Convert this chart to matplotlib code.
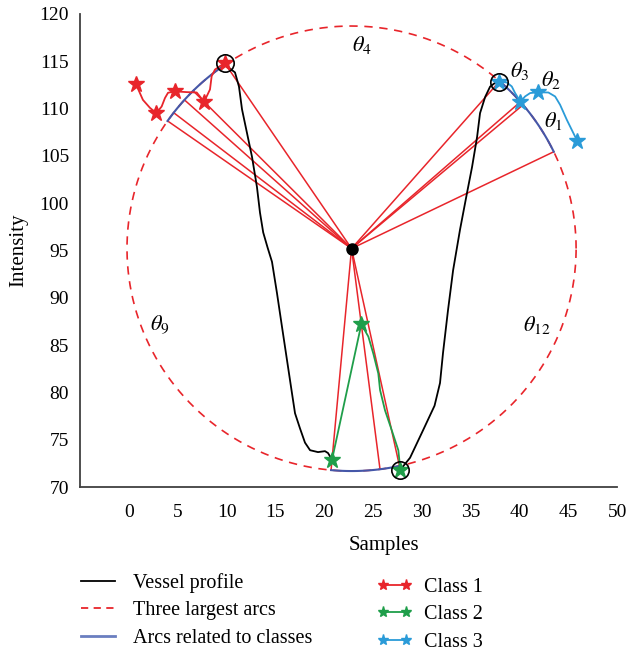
import numpy as np
import matplotlib
matplotlib.use("Agg")
import matplotlib.pyplot as plt
from matplotlib.lines import Line2D

plt.rcParams['font.family'] = ['Liberation Serif', 'DejaVu Serif']
plt.rcParams['mathtext.fontset'] = 'stix'

# vessel profile, the two black pieces
prof1_x = [9.84, 10.86, 11.27, 11.58, 12.09, 12.60, 13.11, 13.42, 13.75, 14.2, 14.65, 15.16,
           15.68, 16.19, 16.70, 17.01, 17.52, 18.03, 18.55, 19.36, 20.08, 20.39, 20.80]
prof1_y = [114.6, 113.8, 112.3, 109.9, 107.4, 104.9, 101.7, 99.0, 96.9, 95.3, 93.8, 90.5,
           86.9, 83.4, 79.9, 77.8, 76.2, 74.7, 73.9, 73.7, 73.8, 73.6, 72.9]
prof2_x = [27.77, 28.79, 30.12, 31.3, 31.86, 32.17, 32.68, 33.20, 33.91, 34.63, 35.14,
           35.66, 35.96, 36.48, 36.99, 37.50]
prof2_y = [71.8, 73.1, 76.0, 78.6, 81.0, 84.2, 88.7, 92.9, 97.2, 101.1, 103.8,
           107.0, 109.5, 111.2, 112.3, 112.7]

# class points (stars)
c1_x = [0.7, 2.8, 4.7, 7.7, 9.8]
c1_y = [112.6, 109.5, 111.8, 110.7, 114.8]
c2_x = [20.8, 23.8, 27.8]
c2_y = [72.9, 87.2, 71.8]
c3_x = [37.9, 40.1, 41.9, 45.9]
c3_y = [112.8, 110.7, 111.7, 106.6]

# profile pieces through the class points
c1_line_x = [0.7, 1.43, 2.15, 2.8, 3.35, 3.69, 4.0, 4.7, 5.91, 6.94, 7.7, 8.30, 8.47, 8.81, 9.8]
c1_line_y = [112.6, 110.9, 110.06, 109.5, 110.2, 111.1, 111.65, 111.8, 111.72, 111.68, 110.7,
             112.0, 113.4, 114.1, 114.8]
c2_line_x = [20.8, 23.8, 24.52, 25.03, 25.54, 25.72, 26.23, 26.92, 27.59, 27.8]
c2_line_y = [72.9, 87.2, 85.9, 84.1, 82.0, 80.25, 78.1, 76.0, 73.9, 71.8]
c3_line_x = [37.9, 38.70, 39.21, 39.55, 40.1, 40.57, 41.09, 41.9, 42.96, 43.65, 44.16,
             44.85, 45.52, 45.9]
c3_line_y = [112.8, 112.74, 112.32, 111.62, 110.7, 111.26, 111.62, 111.7, 111.68, 111.26,
             110.38, 108.79, 107.39, 106.6]

# circle fitted to the profile
cx, cy = 22.8, 95.2
rx, ry = 23.0, 23.5

red = '#e8252b'
green = '#1f9e4a'
cyan = '#2a9bd8'
arcblue = '#4557a8'

fig = plt.figure(figsize=(6.31, 6.53), dpi=100)
ax = fig.add_axes([0.127, 0.254, 0.851, 0.725])


def ang(x, y):
    return np.arctan2((np.array(y) - cy) / ry, (np.array(x) - cx) / rx)


classes = [(c1_x, c1_y, c1_line_x, c1_line_y, red),
           (c2_x, c2_y, c2_line_x, c2_line_y, green),
           (c3_x, c3_y, c3_line_x, c3_line_y, cyan)]

# rays from centre to the circle
for xs, ys, lx, ly, col in classes:
    for a in ang(xs, ys):
        ax.plot([cx, cx + rx * np.cos(a)], [cy, cy + ry * np.sin(a)], color=red, lw=1.1, zorder=2)

t = np.linspace(0, 2 * np.pi, 400)
ax.plot(cx + rx * np.cos(t), cy + ry * np.sin(t), color=red, lw=1.2, ls=(0, (5, 4)), zorder=3)

for xs, ys, lx, ly, col in classes:
    a = ang(xs, ys)
    tt = np.linspace(a.min(), a.max(), 60)
    ax.plot(cx + rx * np.cos(tt), cy + ry * np.sin(tt), color=arcblue, lw=1.5, zorder=4)

ax.plot(prof1_x, prof1_y, color='black', lw=1.3, zorder=5)
ax.plot(prof2_x, prof2_y, color='black', lw=1.3, zorder=5)

for xs, ys, lx, ly, col in classes:
    ax.plot(lx, ly, color=col, lw=1.3, zorder=6)
    ax.plot(xs, ys, ls='none', marker='*', ms=12, color=col, zorder=7)

ax.plot([c1_x[-1], c3_x[0], c2_x[-1]], [c1_y[-1], c3_y[0], c2_y[-1]], ls='none', marker='o',
        ms=12.5, mfc='none', mec='black', mew=1.2, zorder=8)
ax.plot([cx], [cy], marker='o', ms=8, color='black', zorder=8)

tfs = 16
ax.text(23.9, 116.7, r'$\theta_4$', fontsize=tfs, ha='center', va='center')
ax.text(40.0, 113.9, r'$\theta_3$', fontsize=tfs, ha='center', va='center')
ax.text(43.2, 113.0, r'$\theta_2$', fontsize=tfs, ha='center', va='center')
ax.text(43.5, 108.7, r'$\theta_1$', fontsize=tfs, ha='center', va='center')
ax.text(3.2, 87.1, r'$\theta_9$', fontsize=tfs, ha='center', va='center')
ax.text(41.8, 87.1, r'$\theta_{12}$', fontsize=tfs, ha='center', va='center')

ax.set_xlim(-5, 50)
ax.set_ylim(70, 120)
ax.set_xticks(range(0, 51, 5))
ax.set_yticks(range(70, 121, 5))
ax.tick_params(length=0, labelsize=14)
ax.tick_params(axis='x', pad=12)
ax.tick_params(axis='y', pad=8)
for s in ['top', 'right']:
    ax.spines[s].set_visible(False)
for s in ['left', 'bottom']:
    ax.spines[s].set_color('#404040')
    ax.spines[s].set_linewidth(1.3)
ax.set_xlabel('Samples', fontsize=15)
ax.set_ylabel('Intensity', fontsize=15)
ax.xaxis.set_label_coords(0.566, -0.104)
ax.yaxis.set_label_coords(-0.097, 0.5)

h1 = [Line2D([], [], color='black', lw=1.3),
      Line2D([], [], color=red, lw=1.3, ls=(0, (4, 3))),
      Line2D([], [], color='#6a7ec0', lw=2)]
fig.legend(h1, ['Vessel profile', 'Three largest arcs', 'Arcs related to classes'],
           loc='upper left', bbox_to_anchor=(0.115, 0.135), frameon=False, fontsize=14.5,
           handlelength=1.7, handletextpad=0.9, labelspacing=0.42, borderaxespad=0)
h2 = [Line2D([], [], color=red, lw=1.3, marker='*', ms=8),
      Line2D([], [], color=green, lw=1.3, marker='*', ms=8),
      Line2D([], [], color=cyan, lw=1.3, marker='*', ms=8)]
fig.legend(h2, ['Class 1', 'Class 2', 'Class 3'], numpoints=2,
           loc='upper left', bbox_to_anchor=(0.585, 0.128), frameon=False, fontsize=14.5,
           handlelength=1.75, handletextpad=0.55, labelspacing=0.42, borderaxespad=0)

fig.savefig('out.png', dpi=100)
